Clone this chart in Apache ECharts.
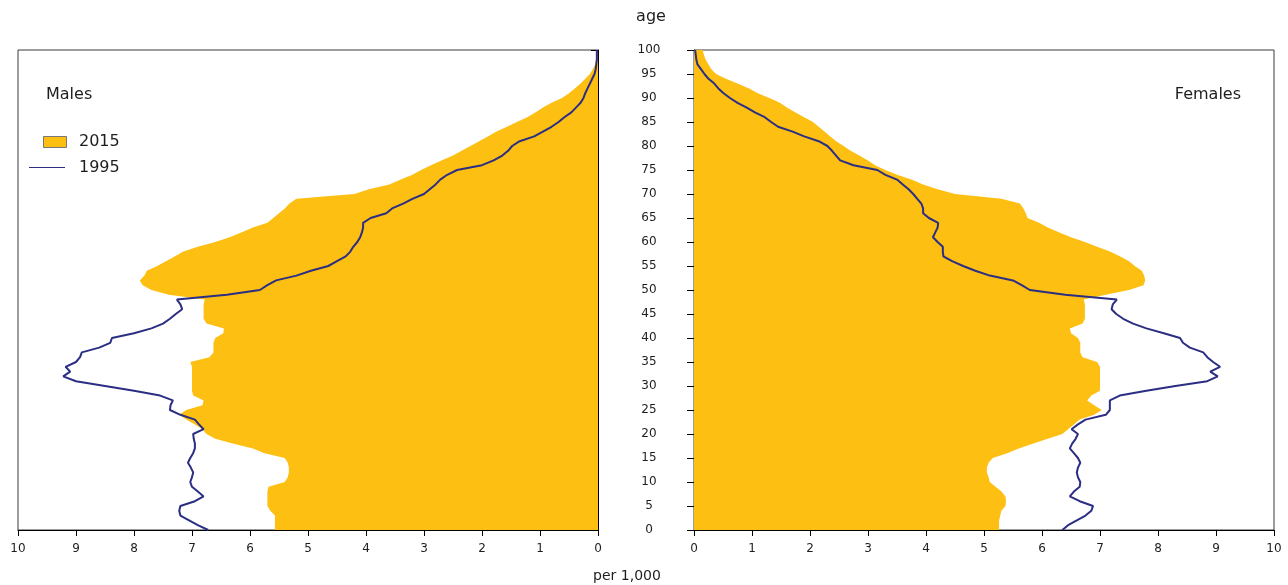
<!DOCTYPE html>
<html><head><meta charset="utf-8">
<script src="https://cdn.jsdelivr.net/npm/echarts@6/dist/echarts.min.js"></script>
<style>html,body{margin:0;padding:0;background:#fff}#c{width:1288px;height:585px}</style>
</head><body><div id="c"></div>
<script>
const ages = ['0','1','2','3','4','5','6','7','8','9','10','11','12','13','14','15','16','17','18','19','20','21','22','23','24','25','26','27','28','29','30','31','32','33','34','35','36','37','38','39','40','41','42','43','44','45','46','47','48','49','50','51','52','53','54','55','56','57','58','59','60','61','62','63','64','65','66','67','68','69','70','71','72','73','74','75','76','77','78','79','80','81','82','83','84','85','86','87','88','89','90','91','92','93','94','95','96','97','98','99','100'];

const males2015 = [5.57,5.57,5.57,5.57,5.65,5.7,5.7,5.7,5.7,5.68,
  5.4,5.35,5.33,5.33,5.35,5.4,5.75,5.95,6.3,6.6,
  6.75,6.82,6.95,7.1,7.22,7.1,6.82,6.8,6.98,7.0,
  7.0,7.0,7.0,7.0,7.0,7.03,6.7,6.63,6.63,6.63,
  6.6,6.46,6.45,6.75,6.8,6.8,6.8,6.8,6.78,7.4,
  7.7,7.85,7.9,7.82,7.78,7.6,7.45,7.3,7.15,6.9,
  6.6,6.35,6.15,5.95,5.7,5.6,5.5,5.4,5.32,5.2,
  4.2,3.95,3.6,3.4,3.2,3.05,2.88,2.7,2.5,2.35,
  2.2,2.05,1.9,1.75,1.57,1.4,1.22,1.08,0.95,0.8,
  0.62,0.5,0.4,0.3,0.22,0.14,0.09,0.05,0.03,0.02,0.01];

const males1995 = [6.72,6.9,7.05,7.2,7.22,7.2,6.95,6.8,6.9,7.0,
  7.03,7.0,6.98,7.02,7.07,7.03,6.98,6.95,6.95,6.97,
  6.98,6.8,6.88,6.95,7.2,7.38,7.37,7.33,7.55,8.0,
  8.5,9.0,9.22,9.1,9.18,9.0,8.93,8.9,8.6,8.41,
  8.38,8.0,7.7,7.5,7.38,7.28,7.17,7.2,7.26,6.4,
  5.83,5.7,5.55,5.2,4.95,4.65,4.5,4.35,4.27,4.22,
  4.15,4.1,4.07,4.05,4.05,3.92,3.65,3.55,3.36,3.2,
  3.0,2.9,2.8,2.72,2.6,2.43,2.0,1.8,1.65,1.55,
  1.48,1.35,1.1,0.95,0.8,0.68,0.58,0.46,0.38,0.3,
  0.25,0.22,0.18,0.14,0.1,0.06,0.04,0.03,0.02,0.02,0.02];

const females2015 = [5.26,5.26,5.26,5.28,5.3,5.37,5.38,5.37,5.3,5.2,
  5.1,5.08,5.05,5.05,5.08,5.15,5.4,5.6,5.85,6.1,
  6.35,6.45,6.55,6.65,6.9,7.03,6.9,6.78,6.85,7.0,
  7.0,7.0,7.0,7.0,7.0,6.95,6.7,6.66,6.66,6.66,
  6.62,6.5,6.48,6.7,6.74,6.74,6.74,6.74,6.72,7.1,
  7.5,7.75,7.78,7.76,7.72,7.6,7.5,7.35,7.17,6.95,
  6.74,6.5,6.3,6.1,5.95,5.75,5.72,5.68,5.62,5.3,
  4.5,4.2,3.95,3.75,3.5,3.3,3.12,3.0,2.85,2.7,
  2.58,2.45,2.35,2.25,2.15,2.05,1.9,1.75,1.6,1.48,
  1.3,1.1,0.95,0.75,0.55,0.38,0.3,0.25,0.2,0.17,0.15];

const females1995 = [6.35,6.45,6.6,6.75,6.85,6.88,6.65,6.48,6.55,6.65,
  6.66,6.62,6.6,6.62,6.66,6.62,6.55,6.48,6.52,6.58,
  6.62,6.51,6.62,6.75,7.1,7.17,7.17,7.17,7.34,7.8,
  8.3,8.85,9.03,8.9,9.07,8.95,8.85,8.78,8.55,8.43,
  8.38,8.1,7.8,7.57,7.4,7.28,7.2,7.22,7.29,6.4,
  5.79,5.65,5.5,5.1,4.85,4.64,4.45,4.3,4.29,4.29,
  4.2,4.12,4.16,4.2,4.21,4.05,3.95,3.95,3.92,3.85,
  3.78,3.7,3.6,3.5,3.3,3.16,2.75,2.52,2.45,2.38,
  2.3,2.15,1.9,1.7,1.45,1.33,1.22,1.05,0.91,0.75,
  0.62,0.51,0.42,0.35,0.25,0.18,0.12,0.06,0.04,0.03,0.02];

const yearNew = '2015';
const yearOld = '1995';
const panelNames = ['Males', 'Females'];

const FONT = 'DejaVu Sans';
const YELLOW = '#FDBF12';
const NAVY = '#2B2E83';
const TXT = '#1e1e1e';

const chart = echarts.init(document.getElementById('c'), null, {renderer: 'canvas'});

function xAx(idx, inverse) {
  return {
    type: 'value', gridIndex: idx, min: 0, max: 10, interval: 1, inverse: inverse,
    axisLine: {show: true, onZero: false, lineStyle: {color: '#000', width: 1}},
    axisTick: {show: true, length: 6, lineStyle: {color: '#000'}},
    axisLabel: {fontFamily: FONT, fontSize: 12, color: TXT, margin: 13},
    splitLine: {show: false}
  };
}
function yAx(idx, pos, showLabel) {
  return {
    type: 'category', gridIndex: idx, data: ages, boundaryGap: false, position: pos,
    axisLine: {show: true, onZero: false, lineStyle: {color: '#000', width: 1}},
    axisTick: {show: true, interval: 4, length: 7, inside: pos === 'right', lineStyle: {color: '#000'}},
    axisLabel: {show: showLabel, interval: 4, fontFamily: FONT, fontSize: 12, color: TXT,
      align: 'center', margin: 51},
    splitLine: {show: false}
  };
}

const option = {
  backgroundColor: '#fff',
  animation: false,
  grid: [
    {left: 18, top: 50, width: 580, height: 480, show: true, borderColor: '#3a3a3a', borderWidth: 1, backgroundColor: 'transparent'},
    {left: 694, top: 50, width: 580, height: 480, show: true, borderColor: '#3a3a3a', borderWidth: 1, backgroundColor: 'transparent'}
  ],
  xAxis: [xAx(0, true), xAx(1, false)],
  yAxis: [yAx(0, 'right', true), yAx(1, 'left', false)],
  series: [
    {name: yearNew, type: 'line', xAxisIndex: 0, yAxisIndex: 0, data: males2015, symbol: 'none',
      lineStyle: {width: 0}, areaStyle: {color: YELLOW, opacity: 1}, z: 1},
    {name: yearOld, type: 'line', xAxisIndex: 0, yAxisIndex: 0, data: males1995, symbol: 'none',
      lineStyle: {width: 2, color: NAVY}, z: 2},
    {name: yearNew, type: 'line', xAxisIndex: 1, yAxisIndex: 1, data: females2015, symbol: 'none',
      lineStyle: {width: 0}, areaStyle: {color: YELLOW, opacity: 1}, z: 1},
    {name: yearOld, type: 'line', xAxisIndex: 1, yAxisIndex: 1, data: females1995, symbol: 'none',
      lineStyle: {width: 2, color: NAVY}, z: 2}
  ],
  graphic: [
    {type: 'text', x: 651, y: 17, style: {text: 'age', fontFamily: FONT, fontSize: 16, fill: TXT, align: 'center', verticalAlign: 'middle'}},
    {type: 'text', x: 627, y: 576, style: {text: 'per 1,000', fontFamily: FONT, fontSize: 14, fill: TXT, align: 'center', verticalAlign: 'middle'}},
    {type: 'text', x: 46, y: 95, style: {text: panelNames[0], fontFamily: FONT, fontSize: 16, fill: TXT, verticalAlign: 'middle'}},
    {type: 'text', x: 1241, y: 95, style: {text: panelNames[1], fontFamily: FONT, fontSize: 16, fill: TXT, align: 'right', verticalAlign: 'middle'}},
    {type: 'rect', shape: {x: 43.5, y: 136.5, width: 23, height: 11}, style: {fill: YELLOW, stroke: '#777', lineWidth: 1}},
    {type: 'text', x: 79, y: 142, style: {text: yearNew, fontFamily: FONT, fontSize: 16, fill: TXT, verticalAlign: 'middle'}},
    {type: 'line', shape: {x1: 29, y1: 167.5, x2: 65, y2: 167.5}, style: {stroke: NAVY, lineWidth: 1}},
    {type: 'text', x: 79, y: 168, style: {text: yearOld, fontFamily: FONT, fontSize: 16, fill: TXT, verticalAlign: 'middle'}}
  ]
};
chart.setOption(option);
</script>
</body></html>
